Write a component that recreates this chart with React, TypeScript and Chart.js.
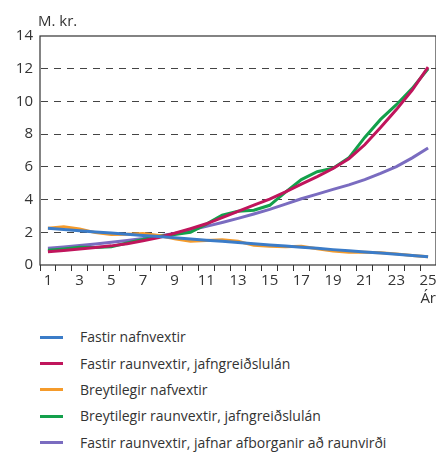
import React, { useEffect, useRef } from "react";
import { Chart, registerables } from "chart.js";

Chart.register(...registerables);

const years = ["1","2","3","4","5","6","7","8","9","10","11","12","13","14","15","16","17","18","19","20","21","22","23","24","25"];

const fastirNafn = [2.24,2.17,2.10,2.02,1.95,1.88,1.81,1.74,1.66,1.59,1.52,1.45,1.38,1.30,1.23,1.16,1.09,1.02,0.94,0.87,0.80,0.73,0.66,0.58,0.51];
const fastirRaunJafngr = [0.81,0.89,0.98,1.07,1.17,1.30,1.48,1.68,1.94,2.22,2.52,2.90,3.28,3.66,4.03,4.47,4.95,5.40,5.90,6.50,7.35,8.40,9.50,10.70,12.10];
const breytNaf = [2.24,2.34,2.20,1.98,1.87,1.88,1.93,1.80,1.60,1.45,1.50,1.55,1.45,1.20,1.15,1.12,1.15,1.00,0.85,0.78,0.78,0.75,0.68,0.58,0.50];
const breytRaunJafngr = [0.90,0.98,1.08,1.07,1.12,1.35,1.56,1.76,1.86,2.00,2.50,3.05,3.28,3.35,3.65,4.45,5.22,5.70,5.92,6.55,7.80,8.90,9.80,10.80,12.00];
const fastirRaunJafnar = [1.02,1.10,1.19,1.29,1.39,1.50,1.62,1.77,1.93,2.13,2.36,2.60,2.85,3.12,3.40,3.72,4.05,4.33,4.62,4.90,5.22,5.60,6.02,6.55,7.15];

const seriesNames = [
  "Fastir nafnvextir",
  "Fastir raunvextir, jafngreiðslulán",
  "Breytilegir nafvextir",
  "Breytilegir raunvextir, jafngreiðslulán",
  "Fastir raunvextir, jafnar afborganir að raunvirði",
];
const seriesColors = ["#3b7cc8", "#c0155c", "#f59b2b", "#13a04b", "#7a6cc0"];
const seriesData = [fastirNafn, fastirRaunJafngr, breytNaf, breytRaunJafngr, fastirRaunJafnar];

const yTitle = "M. kr.";
const xTitle = "Ár";

const FONT = '"Open Sans", "Noto Sans", sans-serif';
const TEXT = "#333333";

const framePlugin = {
  id: "frame",
  afterDraw(chart: any) {
    const { ctx, chartArea } = chart;
    ctx.save();
    ctx.strokeStyle = "#333333";
    ctx.lineWidth = 1.2;
    ctx.strokeRect(chartArea.left, chartArea.top, chartArea.right - chartArea.left, chartArea.bottom - chartArea.top);
    ctx.fillStyle = TEXT;
    ctx.font = `15px ${FONT}`;
    ctx.textAlign = "left";
    ctx.textBaseline = "middle";
    ctx.fillText(yTitle, chartArea.left - 2, chartArea.top - 14);
    ctx.restore();
  },
};

export default function App() {
  const ref = useRef<HTMLCanvasElement | null>(null);

  useEffect(() => {
    if (!ref.current) return;
    const chart = new Chart(ref.current, {
      type: "line",
      data: {
        labels: years,
        datasets: seriesNames.map((name, i) => ({
          label: name,
          data: seriesData[i],
          borderColor: seriesColors[i],
          backgroundColor: seriesColors[i],
          borderWidth: 3,
          pointRadius: 0,
          tension: 0,
          fill: false,
        })),
      },
      options: {
        animation: false,
        responsive: true,
        maintainAspectRatio: false,
        layout: { padding: { top: 36, right: 8, left: 0, bottom: 2 } },
        plugins: {
          legend: { display: false },
          tooltip: { enabled: false },
          title: { display: false },
        },
        scales: {
          x: {
            type: "category",
            offset: true,
            grid: {
              offset: true,
              drawOnChartArea: false,
              drawTicks: true,
              tickLength: 6,
              tickColor: "#333333",
              tickWidth: 1,
            },
            border: { display: false },
            ticks: {
              autoSkip: false,
              maxRotation: 0,
              padding: 1,
              color: TEXT,
              font: { family: FONT, size: 15 },
              callback: (_v: any, idx: number) => (idx % 2 === 0 ? years[idx] : ""),
            },
            title: {
              display: true,
              text: xTitle,
              align: "end",
              color: TEXT,
              font: { family: FONT, size: 15 },
              padding: { top: -1, bottom: 0 },
            },
          },
          y: {
            min: 0,
            max: 14,
            afterFit: (s: any) => { s.width = 40; },
            grid: {
              drawTicks: false,
              color: (ctx: any) => (ctx.tick && (ctx.tick.value === 0 || ctx.tick.value === 14) ? "rgba(0,0,0,0)" : "#444444"),
              lineWidth: 1,
              borderDash: [7, 6],
            },
            border: { display: true, color: "rgba(0,0,0,0)", dash: [7, 6] },
            ticks: {
              stepSize: 2,
              padding: 7,
              color: TEXT,
              font: { family: FONT, size: 15 },
            },
          },
        },
      },
      plugins: [framePlugin],
    } as any);
    return () => chart.destroy();
  }, []);

  return (
    <div style={{ width: 444, margin: "-8px 0 0 -8px", fontFamily: FONT }}>
      <div style={{ position: "relative", width: 444, height: 310 }}>
        <canvas ref={ref} />
      </div>
      <div style={{ paddingLeft: 40, paddingTop: 14 }}>
        {seriesNames.map((name, i) => (
          <div key={name} style={{ display: "flex", alignItems: "center", height: 26.4 }}>
            <span style={{ display: "inline-block", width: 23, height: 3, background: seriesColors[i], marginRight: 17 }} />
            <span style={{ fontSize: 14, lineHeight: "18px", color: TEXT, whiteSpace: "nowrap" }}>{name}</span>
          </div>
        ))}
      </div>
    </div>
  );
}
